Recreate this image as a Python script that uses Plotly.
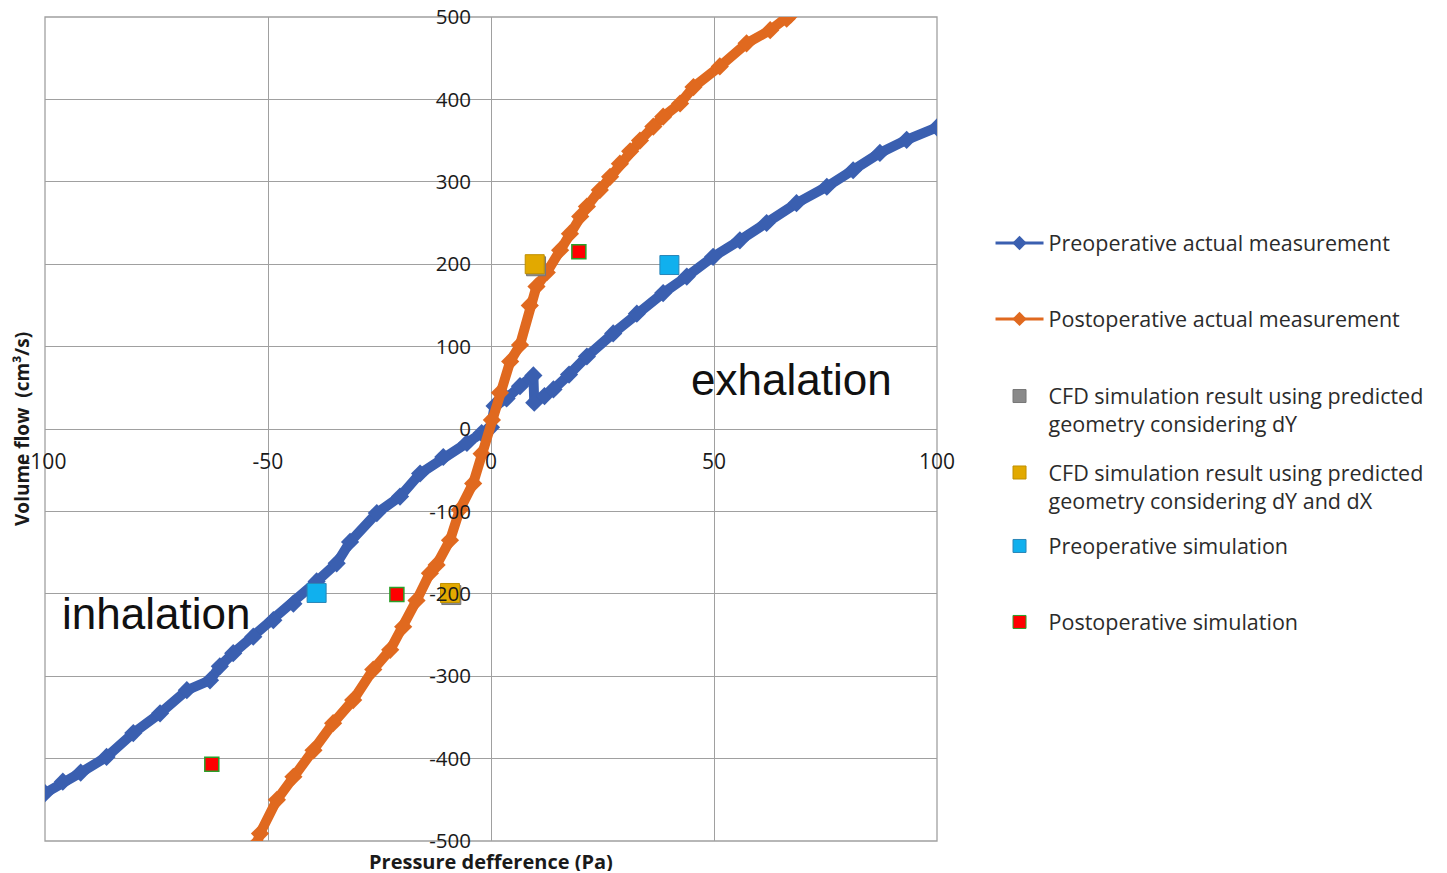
import plotly.graph_objects as go

# Preoperative actual measurement (Pa, cm3/s)
pre_x = [-100, -96, -92, -86.2, -80.2, -74.2, -68.2, -63, -60.8, -57.8, -53.3, -48.8,
         -44.3, -39.1, -34.6, -31.6, -25.6, -20.4, -15.9, -10.7, -5.4, -2.1, 0, 0.8,
         3.5, 6.5, 9.5, 9.7, 12, 14, 17.5, 21.5, 27.4, 32.7, 38.6, 43.9, 49.8, 55.8,
         61.8, 68.5, 75.3, 81.2, 87.2, 93.2, 100]
pre_y = [-442, -428, -417, -398, -369, -345, -317, -305, -288, -272, -252, -232,
         -212, -185, -163, -137, -102, -82, -54, -34, -17, -5, 2, 28,
         37, 52, 65, 32, 40, 48, 66, 88, 116, 140, 165, 185, 209, 229,
         250, 274, 294, 314, 335, 351, 366]

# Postoperative actual measurement (Pa, cm3/s)
post_x = [-52.5, -51.8, -48, -44.3, -39.8, -35.4, -30.9, -26.4, -22.6, -19.7, -16.7,
          -13.7, -12.2, -9.2, -7, -4, -2.1, 0.2, 2, 4.3, 6.5, 8.7, 10.2, 12.5, 15.5,
          17.7, 20, 21.5, 24.4, 26.7, 28.9, 31.2, 33.4, 36.4, 38.6, 42.4, 45.4, 51.3,
          57.3, 62.6, 66.3, 67.2]
post_y = [-503, -491, -450, -422, -390, -357, -329, -292, -268, -240, -208,
          -175, -165, -135, -98, -66, -30, 11, 44, 82, 102, 150, 173, 190, 217,
          237, 258, 270, 290, 306, 322, 337, 350, 367, 379, 395, 415, 440,
          468, 484, 498, 503]

# Simulation results
cfd_dy_x = [-8.9, 10.1]
cfd_dy_y = [-201.5, 197.5]
cfd_dydx_x = [-9.2, 9.8]
cfd_dydx_y = [-199, 200]
pre_sim_x = [-39.1, 40]
pre_sim_y = [-199, 199]
post_sim_x = [-62.6, -21.1, 19.7]
post_sim_y = [-407, -201, 215]

x_ticks = [-100, -50, 0, 50, 100]
y_ticks = [-500, -400, -300, -200, -100, 0, 100, 200, 300, 400, 500]

BLUE = "#3a5fb0"
ORANGE = "#e0691f"
GREY = "#8a8a8a"
GOLD = "#e2a900"
CYAN = "#10b0ee"
RED = "#ff0000"
GRID = "#a0a0a0"
TEXT = "#1a1a1a"
FONT = "Open Sans"

fig = go.Figure()

# measured curves (drawn without legend; legend entries below use thinner strokes)
fig.add_trace(go.Scatter(x=pre_x, y=pre_y, mode="lines+markers",
                         line=dict(color=BLUE, width=10),
                         marker=dict(symbol="diamond", size=14, color=BLUE),
                         showlegend=False))
fig.add_trace(go.Scatter(x=post_x, y=post_y, mode="lines+markers",
                         line=dict(color=ORANGE, width=10),
                         marker=dict(symbol="diamond", size=14, color=ORANGE),
                         showlegend=False))

fig.add_trace(go.Scatter(x=cfd_dy_x, y=cfd_dy_y, mode="markers",
                         marker=dict(symbol="square", size=19, color=GREY,
                                     line=dict(color="#777777", width=1)),
                         showlegend=False))
fig.add_trace(go.Scatter(x=cfd_dydx_x, y=cfd_dydx_y, mode="markers",
                         marker=dict(symbol="square", size=19, color=GOLD,
                                     line=dict(color="#c09000", width=1)),
                         showlegend=False))
fig.add_trace(go.Scatter(x=pre_sim_x, y=pre_sim_y, mode="markers",
                         marker=dict(symbol="square", size=19, color=CYAN,
                                     line=dict(color="#2a86b8", width=1)),
                         showlegend=False))
fig.add_trace(go.Scatter(x=post_sim_x, y=post_sim_y, mode="markers",
                         marker=dict(symbol="square", size=14, color=RED,
                                     line=dict(color="#2aa02a", width=1.5)),
                         showlegend=False))

# legend entries, one legend box each
legend_items = [
    ("Preoperative actual measurement", "lines+markers", BLUE, "diamond", 11, None),
    ("Postoperative actual measurement", "lines+markers", ORANGE, "diamond", 11, None),
    ("CFD simulation result using predicted<br>geometry considering dY", "markers", GREY, "square", 13, "#777777"),
    ("CFD simulation result using predicted<br>geometry considering dY and dX", "markers", GOLD, "square", 13, "#c09000"),
    ("Preoperative simulation", "markers", CYAN, "square", 13, "#2a86b8"),
    ("Postoperative simulation", "markers", RED, "square", 13, "#2aa02a"),
]
legend_y = [0.7257, 0.6335, 0.523, 0.4302, 0.358, 0.2658]

layout_legends = {}
for i, (name, mode, color, sym, size, edge) in enumerate(legend_items):
    key = "legend" if i == 0 else f"legend{i + 1}"
    marker = dict(symbol=sym, size=size, color=color)
    if edge:
        marker["line"] = dict(color=edge, width=1)
    fig.add_trace(go.Scatter(x=[None], y=[None], mode=mode, name=name,
                             line=dict(color=color, width=3),
                             marker=marker, legend=key, showlegend=True))
    layout_legends[key] = dict(
        x=1.06, y=legend_y[i], xanchor="left", yanchor="middle",
        bgcolor="rgba(0,0,0,0)", borderwidth=0,
        font=dict(family=FONT, size=21.5, color="#2b2b2b"),
        itemwidth=48, valign="top",
    )

fig.update_layout(
    width=1447, height=873,
    margin=dict(l=45, r=510, t=17, b=32, autoexpand=False),
    plot_bgcolor="white", paper_bgcolor="white",
    xaxis=dict(range=[-100, 100], tickvals=x_ticks, ticktext=[str(v) for v in x_ticks],
               anchor="free", position=0.5, showgrid=True, gridcolor=GRID, gridwidth=1.3,
               zeroline=True, zerolinecolor=GRID, zerolinewidth=1.3, showline=False,
               ticks="", ticklabelstandoff=18, automargin=False,
               tickfont=dict(family=FONT, size=21, color=TEXT)),
    yaxis=dict(range=[-500, 500], tickvals=y_ticks, ticktext=[str(v) for v in y_ticks],
               anchor="free", position=0.5, showgrid=True, gridcolor=GRID, gridwidth=1.3,
               zeroline=True, zerolinecolor=GRID, zerolinewidth=1.3, showline=False,
               ticks="", ticklabelstandoff=20, automargin=False,
               tickfont=dict(family=FONT, size=20.5, color=TEXT)),
    **layout_legends,
)

# plot frame
fig.add_shape(type="rect", xref="paper", yref="paper", x0=0, x1=1, y0=0, y1=1,
              line=dict(color=GRID, width=1.3), layer="below")

# axis titles
fig.add_annotation(text="<b>Volume flow  (cm³/s)</b>", xref="paper", yref="paper",
                   x=-0.0258, y=0.5, xanchor="center", yanchor="middle",
                   textangle=-90, showarrow=False,
                   font=dict(family=FONT, size=19, color=TEXT))
fig.add_annotation(text="<b>Pressure defference (Pa)</b>", xref="paper", yref="paper",
                   x=0.5, y=-0.0243, xanchor="center", yanchor="middle", showarrow=False,
                   height=20, valign="middle", borderpad=0,
                   font=dict(family=FONT, size=20, color=TEXT))

# regime labels
fig.add_annotation(text="exhalation", x=67.3, y=59.5, showarrow=False,
                   font=dict(family="Liberation Sans", size=44, color="#111111"))
fig.add_annotation(text="inhalation", x=-75.1, y=-224.5, showarrow=False,
                   font=dict(family="Liberation Sans", size=44, color="#111111"))

fig.write_html("out.html")
